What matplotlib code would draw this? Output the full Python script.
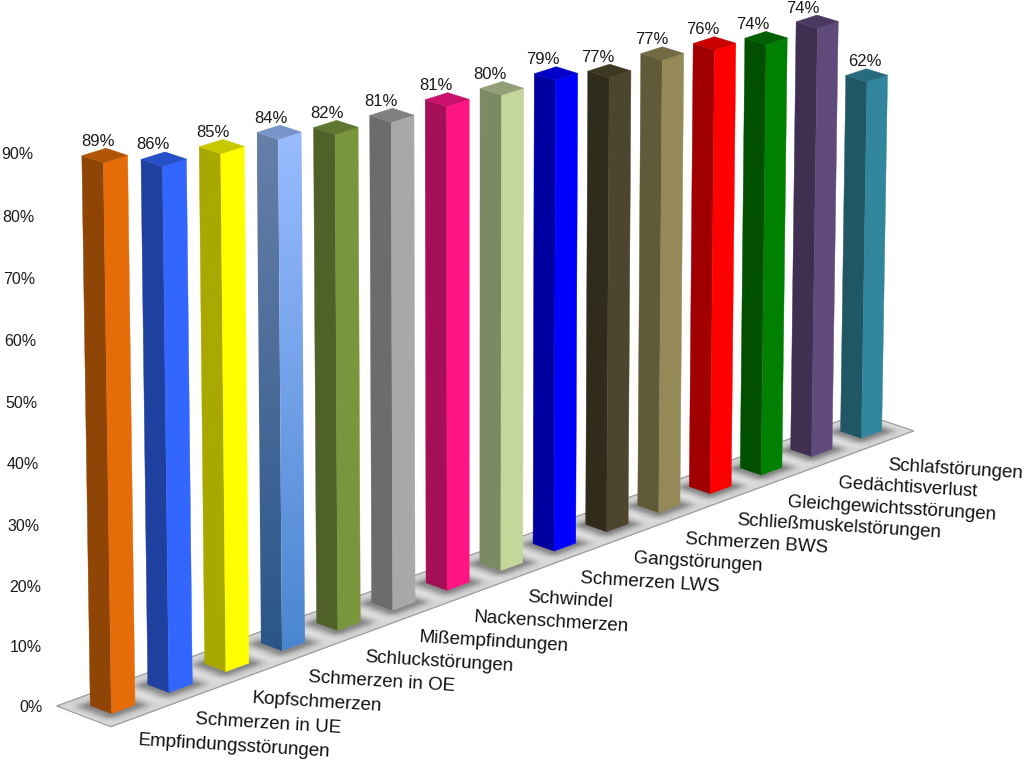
import numpy as np
import matplotlib
matplotlib.use("Agg")
import matplotlib.pyplot as plt
from matplotlib.patches import Polygon

plt.rcParams['font.family'] = ['Liberation Sans', 'DejaVu Sans']

categories = ["Empfindungsstörungen", "Schmerzen in UE", "Kopfschmerzen", "Schmerzen in OE",
              "Schluckstörungen", "Mißempfindungen", "Nackenschmerzen", "Schwindel",
              "Schmerzen LWS", "Gangstörungen", "Schmerzen BWS", "Schließmuskelstörungen",
              "Gleichgewichtsstörungen", "Gedächtisverlust", "Schlafstörungen"]
values = [89, 86, 85, 84, 82, 81, 81, 80, 79, 77, 77, 76, 74, 74, 62]
# bar heights, the labels above are rounded
heights = [89, 85.5, 84.6, 84, 81.9, 81, 80.7, 79.7, 79.3, 76.9, 77, 75.9, 74, 74, 62]
ticks = [0, 10, 20, 30, 40, 50, 60, 70, 80, 90]

right_colors = ["#E66C0A", "#3366FF", "#FFFF00", "#99BBFF", "#7A963C", "#A8A8A8", "#FF1483", "#C4D79B",
                "#0000FF", "#4C462E", "#958A57", "#FF0000", "#008000", "#604A7B", "#31859C"]
left_colors = ["#8F4505", "#2040A0", "#A8A800", "#6680A8", "#4F6028", "#6C6C6C", "#A50F58", "#7C8A64",
               "#0000A0", "#302C1C", "#605A38", "#A00000", "#005000", "#3F2F50", "#205765"]
top_colors = ["#B25507", "#2650C8", "#C8C800", "#7795C8", "#5F7530", "#808080", "#C8106C", "#949F78",
              "#0000C8", "#3C3822", "#716A42", "#C80000", "#006000", "#4A3860", "#276C7E"]

# camera fit: (along row, depth, percent) -> pixel
cam_world = [(0.304, .316, 0), (0.304, .316, 89), (0.304, .706, 89), (0.714, .316, 89),
             (8.304, .316, 0), (8.304, .316, 79), (8.304, .706, 79), (8.714, .316, 79),
             (14.304, .316, 0), (14.304, .316, 62), (14.304, .706, 62), (14.714, .316, 62),
             (0, 0, 0), (0, 1, 0), (15.02, 0, 0)]
cam_pixel = [(111, 714), (104, 163), (82, 156), (128, 156),
             (554, 551), (555, 81), (533, 74), (577, 74),
             (862, 437), (868, 83), (846, 77), (888, 76),
             (111, 727), (57, 706), (913, 431)]

rows = []
rhs = []
for w, p in zip(cam_world, cam_pixel):
    rows.append([*w, 1, 0, 0, 0, 0, -p[0]*w[0], -p[0]*w[1], -p[0]*w[2]])
    rhs.append(p[0])
    rows.append([0, 0, 0, 0, *w, 1, -p[1]*w[0], -p[1]*w[1], -p[1]*w[2]])
    rhs.append(p[1])
cam = np.linalg.lstsq(np.array(rows, float), np.array(rhs, float), rcond=None)[0]

def proj(u, v, z):
    d = cam[8]*u + cam[9]*v + cam[10]*z + 1
    return ((cam[0]*u + cam[1]*v + cam[2]*z + cam[3])/d,
            (cam[4]*u + cam[5]*v + cam[6]*z + cam[7])/d)

U0, V0 = 0.304, 0.316
BW, BD = 0.41, 0.39
FLOOR_U = 15.02

fig = plt.figure(figsize=(10.24, 7.6), dpi=100)
ax = fig.add_axes([0, 0, 1, 1])
ax.axis("off")

# floor with soft shadow round each bar, pale stripe between bars
uu, vv = np.meshgrid(np.linspace(0, FLOOR_U, 900), np.linspace(0, 1, 60))
phase = (uu - U0 - BW/2 + 0.5) % 1 - 0.5
du = np.clip(np.abs(phase) - BW/2, 0, None)
dv = np.clip(np.abs(vv - V0 - BD/2) - BD/2, 0, None)
dist = np.hypot(du, dv*1.2)
shade = 0.9 - 0.36*np.exp(-(dist/0.17)**2) - 0.07*np.abs(2*vv - 1)**2
xx, yy = proj(uu, vv, 0)
ax.pcolormesh(xx, yy, shade, cmap="gray", vmin=0, vmax=1, shading="gouraud", zorder=1)
corners = [proj(0, 0, 0), proj(FLOOR_U, 0, 0), proj(FLOOR_U, 1, 0), proj(0, 1, 0)]
ax.add_patch(Polygon(corners, closed=True, fill=False, ec="#9A9A9A", lw=0.8, zorder=2))

label_dx = [-8, -12, -10, -9, -10, -12, -12, -12, -13, -12, -11, -12, -13, -14, -2]

for i in range(len(values) - 1, -1, -1):
    u0, u1 = i + U0, i + U0 + BW
    v0, v1 = V0, V0 + BD
    z = heights[i]
    zo = 10 + len(values) - i
    left = [proj(u0, v1, 0), proj(u0, v0, 0), proj(u0, v0, z), proj(u0, v1, z)]
    right = [proj(u0, v0, 0), proj(u1, v0, 0), proj(u1, v0, z), proj(u0, v0, z)]
    top = [proj(u0, v0, z), proj(u1, v0, z), proj(u1, v1, z), proj(u0, v1, z)]
    if i == 3:
        # this one bar is shaded from top to bottom
        for pts, c0, c1 in [(left, "#6680A8", "#2B5588"), (right, "#99BBFF", "#4A86D0")]:
            pg = Polygon(pts, closed=True, fc="none", ec="none", zorder=zo)
            ax.add_patch(pg)
            rgb0 = np.array(matplotlib.colors.to_rgb(c0))
            rgb1 = np.array(matplotlib.colors.to_rgb(c1))
            t = np.linspace(0, 1, 256)[:, None]
            grad = (rgb0*(1 - t) + rgb1*t)[:, None, :]
            ys = [p[1] for p in pts]
            xs = [p[0] for p in pts]
            im = ax.imshow(grad, extent=(min(xs), max(xs), max(ys), min(ys)), aspect="auto", zorder=zo)
            im.set_clip_path(pg)
    else:
        ax.add_patch(Polygon(left, closed=True, fc=left_colors[i], ec=left_colors[i], lw=0.3, zorder=zo))
        ax.add_patch(Polygon(right, closed=True, fc=right_colors[i], ec=right_colors[i], lw=0.3, zorder=zo))
    ax.add_patch(Polygon(top, closed=True, fc=top_colors[i], ec=top_colors[i], lw=0.3, zorder=zo))

    bx, by = proj(u1, v1, z)
    ax.text(bx + label_dx[i], by - 7, "%d%%" % values[i], ha="center", va="center", fontsize=12,
            color="#1a1a1a", zorder=40)

    fx, fy = proj(u0, v0, 0)
    ax.text(fx + 26.5, fy + 27, categories[i], ha="left", va="center", rotation=-3.5,
            rotation_mode="anchor", fontsize=13.5, color="#111111", zorder=40)

for t in ticks:
    x, y = proj(0, 1, t*0.995)
    ax.text(x - 14, y + 2, "%d%%" % t, ha="right", va="center", fontsize=11.5, color="#1a1a1a")

ax.set_xlim(0, 1024)
ax.set_ylim(760, 0)
fig.savefig("out.png", dpi=100)
